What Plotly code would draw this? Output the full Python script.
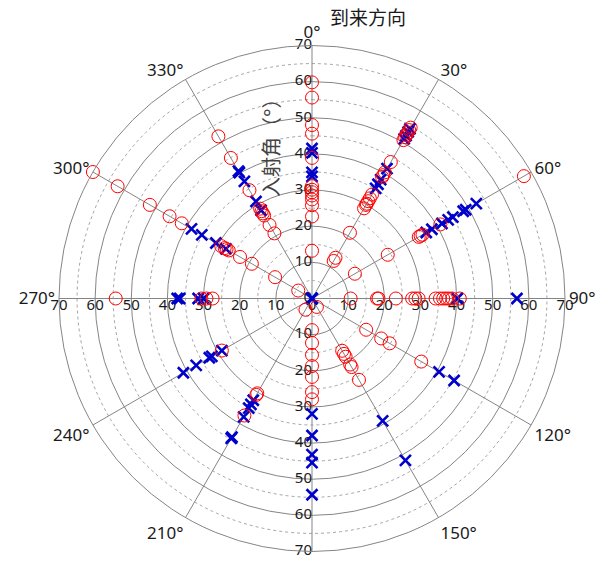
import numpy as np
import plotly.graph_objects as go

# ---------------- data ----------------
directions = [0, 30, 60, 90, 120, 150, 180, 210, 240, 270, 300, 330]

circles_000 = [59.8, 55.6, 48.0, 45.6, 38.9, 31.1, 30.1, 29.4, 28.5, 27.4, 25.8, 22.7, 13.2]
circles_030 = [54.6, 53.8, 53.0, 52.2, 51.5, 50.6, 43.6, 40.3, 39.4, 38.8, 33.2, 32.0, 31.1, 30.3, 29.9, 28.8, 21.0, 13.0, 12.0]
circles_060 = [67.7, 41.0, 35.3, 34.7, 34.1, 24.2, 13.7]
circles_090 = [10.7, 18.0, 18.4, 23.2, 27.7, 28.6, 29.5, 34.2, 35.4, 36.3, 37.1, 37.9, 38.8, 40.9]
circles_120 = [17.3, 22.1, 24.8, 34.9]
circles_150 = [2.7, 16.7, 17.7, 18.6, 21.1, 21.9, 26.0]
circles_180 = [8.75, 12.3, 15.6, 18.7, 21.7, 25.9, 27.9]
circles_210 = [3.6, 30.3, 30.8, 37.4]
circles_240 = [28.8]
circles_270 = [54.3, 30.6, 29.2, 27.5]
circles_300 = [70.0, 62.1, 51.8, 45.5, 41.6, 29.0, 27.9, 27.3, 26.6, 23.0, 19.2, 11.8, 4.4]
circles_330 = [51.8, 44.9, 34.6, 28.7, 27.9, 27.2, 26.5, 23.5, 20.8]

crosses_000 = [0, 41.5, 40.3, 34.9, 33.8]
crosses_030 = [54.2, 53.2, 52.0, 51.0, 41.5, 38.0, 36.5, 35.2]
crosses_060 = [52.5, 49.1, 48.3, 45.0, 43.5, 41.5, 38.3, 36.5]
crosses_090 = [0, 40.2, 56.7]
crosses_120 = [40.6, 45.4]
crosses_150 = [39.1, 51.7]
crosses_180 = [0, 31.9, 37.9, 43.2, 45.4, 54.3]
crosses_210 = [32.5, 33.8, 35.0, 37.8, 44.3, 44.7]
crosses_240 = [28.8, 32.0, 32.8, 37.0, 41.1]
crosses_270 = [0, 31.5, 30.0, 36.6, 37.3]
crosses_300 = [38.5, 35.2, 30.7, 27.5]
crosses_330 = [40.7, 40.2, 37.4, 31.0, 28.2]

circle_sets = [circles_000, circles_030, circles_060, circles_090, circles_120, circles_150,
               circles_180, circles_210, circles_240, circles_270, circles_300, circles_330]
cross_sets = [crosses_000, crosses_030, crosses_060, crosses_090, crosses_120, crosses_150,
              crosses_180, crosses_210, crosses_240, crosses_270, crosses_300, crosses_330]

radial_ticks = [0, 10, 20, 30, 40, 50, 60, 70]
dashed_rings = [5, 15, 25, 35, 45, 55, 65]
angle_ticks = [0, 30, 60, 90, 120, 150, 180, 210, 240, 270, 300, 330]
angle_labels = ["0°", "30°", "60°", "90°", "120°", "150°", "", "210°", "240°", "270°", "300°", "330°"]

# ---------------- build ----------------
c_theta, c_r = [], []
for d, vals in zip(directions, circle_sets):
    c_theta += [d] * len(vals)
    c_r += vals
x_theta, x_r = [], []
for d, vals in zip(directions, cross_sets):
    x_theta += [d] * len(vals)
    x_r += vals

FONT = "Noto Sans, Noto Sans CJK SC, sans-serif"
GRID = "#858585"
TXT = "#1a1a1a"

fig = go.Figure()

ring_theta = np.linspace(0, 360, 361)
for rr in dashed_rings:
    fig.add_trace(go.Scatterpolar(r=[rr] * len(ring_theta), theta=ring_theta, mode="lines",
                                  line=dict(color="#8f8f8f", width=0.8, dash="3px,3px"),
                                  hoverinfo="skip", showlegend=False))

lab_font = dict(size=15, color=TXT, family=FONT)
fig.add_trace(go.Scatterpolar(r=radial_ticks, theta=[0] * len(radial_ticks), mode="text",
                              text=[str(v) for v in radial_ticks], textposition="middle left",
                              textfont=lab_font, showlegend=False, hoverinfo="skip", cliponaxis=False))
fig.add_trace(go.Scatterpolar(r=radial_ticks[1:], theta=[180] * (len(radial_ticks) - 1), mode="text",
                              text=[str(v) for v in radial_ticks[1:]], textposition="middle left",
                              textfont=lab_font, showlegend=False, hoverinfo="skip", cliponaxis=False))
fig.add_trace(go.Scatterpolar(r=radial_ticks, theta=[90] * len(radial_ticks), mode="text",
                              text=[str(v) for v in radial_ticks], textposition="bottom center",
                              textfont=lab_font, showlegend=False, hoverinfo="skip", cliponaxis=False))
fig.add_trace(go.Scatterpolar(r=radial_ticks[1:], theta=[270] * (len(radial_ticks) - 1), mode="text",
                              text=[str(v) for v in radial_ticks[1:]], textposition="bottom center",
                              textfont=lab_font, showlegend=False, hoverinfo="skip", cliponaxis=False))

fig.add_trace(go.Scatterpolar(r=x_r, theta=x_theta, mode="markers",
                              marker=dict(symbol="x-thin", size=11, color="#0000cc",
                                          line=dict(color="#0000cc", width=2.6)),
                              showlegend=False, cliponaxis=False))
fig.add_trace(go.Scatterpolar(r=c_r, theta=c_theta, mode="markers",
                              marker=dict(symbol="circle-open", size=13, color="#ff0000",
                                          line=dict(color="#ff0000", width=1)),
                              showlegend=False, cliponaxis=False))

cx, cy, R = 312, 563 - 298.5, 253
fig.update_layout(
    width=605, height=563,
    margin=dict(l=0, r=0, t=0, b=0),
    paper_bgcolor="white",
    font=dict(family=FONT, color=TXT),
    polar=dict(
        domain=dict(x=[(cx - R) / 605, (cx + R) / 605], y=[(cy - R) / 563, (cy + R) / 563]),
        bgcolor="white",
        radialaxis=dict(range=[0, 70], tickvals=radial_ticks, showticklabels=False, ticks="",
                        showline=False, gridcolor=GRID, gridwidth=1),
        angularaxis=dict(rotation=90, direction="clockwise", tickvals=angle_ticks,
                         ticktext=angle_labels, ticks="", showline=True, linecolor=GRID,
                         linewidth=1, gridcolor=GRID, gridwidth=1,
                         tickfont=dict(size=17, color=TXT, family=FONT)),
    ),
    annotations=[
        dict(text="到来方向", x=368 / 605, y=1 - 18 / 563, xref="paper", yref="paper",
             xanchor="center", yanchor="middle",
             showarrow=False, font=dict(size=19, color=TXT, family=FONT)),
        dict(text="入射角（°）", x=271 / 605, y=1 - 143 / 563, xref="paper", yref="paper",
             xanchor="center", yanchor="middle",
             showarrow=False, textangle=-90, font=dict(size=20, color="#444444", family=FONT)),
    ],
)

fig.write_html("out.html", config={"displayModeBar": False},
               post_script="document.body.style.margin='0px';")
